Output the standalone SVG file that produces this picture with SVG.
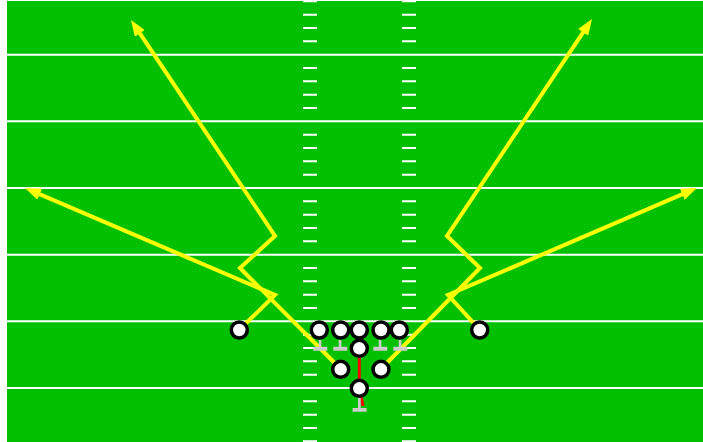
<svg xmlns="http://www.w3.org/2000/svg" width="703" height="442" viewBox="0 0 703 442">
<style>
.yard{stroke:#FFFFFF;stroke-width:2;fill:none}
.hash{stroke:#FFFFFF;stroke-width:2;fill:none}
.route{stroke:#FFFF00;stroke-width:4;fill:none;stroke-linejoin:miter;stroke-linecap:butt}
.snap{stroke:#FF0000;stroke-width:3;fill:none}
.block{fill:#CCCCCC}
.player{fill:#FFFFFF;stroke:#000000;stroke-width:3.5}
</style>
<defs>
<marker id="arrow" markerUnits="userSpaceOnUse" markerWidth="16" markerHeight="12" refX="8" refY="6" orient="auto" viewBox="0 0 16 12">
<path d="M0,0 L16,6 L0,12 Z" fill="#FFFF00"/>
</marker>
</defs>
<rect x="0" y="0" width="703" height="442" fill="#FFFFFF"/>
<g id="field">
<rect x="7" y="1" width="696" height="441" fill="#00C000"/>
<path class="yard" d="M7,54.67H703M7,121.33H703M7,188H703M7,254.67H703M7,321.33H703M7,388H703"/>
<path class="hash" d="M303,1.33h14M303,14.67h14M303,28h14M303,41.33h14M303,68h14M303,81.33h14M303,94.67h14M303,108h14M303,134.67h14M303,148h14M303,161.33h14M303,174.67h14M303,201.33h14M303,214.67h14M303,228h14M303,241.33h14M303,268h14M303,281.33h14M303,294.67h14M303,308h14M303,334.67h14M303,348h14M303,361.33h14M303,374.67h14M303,401.33h14M303,414.67h14M303,428h14M303,441.33h14"/>
<path class="hash" d="M402,1.33h14M402,14.67h14M402,28h14M402,41.33h14M402,68h14M402,81.33h14M402,94.67h14M402,108h14M402,134.67h14M402,148h14M402,161.33h14M402,174.67h14M402,201.33h14M402,214.67h14M402,228h14M402,241.33h14M402,268h14M402,281.33h14M402,294.67h14M402,308h14M402,334.67h14M402,348h14M402,361.33h14M402,374.67h14M402,401.33h14M402,414.67h14M402,428h14M402,441.33h14"/>
</g>
<g id="connectors">
<polyline class="route" points="239,330 275,295 32.4,191.1" marker-end="url(#arrow)"/>
<polyline class="route" points="340.7,369 240,268 275,236 135.4,26.7" marker-end="url(#arrow)"/>
<polyline class="route" points="480,330 448,295 689.6,191.2" marker-end="url(#arrow)"/>
<polyline class="route" points="381,369 480,268 447,236 587.6,25.7" marker-end="url(#arrow)"/>
<polyline class="snap" points="359.3,348 359.3,388 363,406"/>
</g>
<g id="blocks">
<path class="block" d="M318.7,340h2.7v6.7h5.9v4h-14v-4h5.4Z"/>
<path class="block" d="M338.7,340h2.7v6.7h5.9v4h-14v-4h5.4Z"/>
<path class="block" d="M378.7,340h2.7v6.7h5.9v4h-14v-4h5.4Z"/>
<path class="block" d="M398.7,340h2.7v6.7h5.9v4h-14v-4h5.4Z"/>
<path class="block" d="M358,398h2.7v10h5.9v3.7h-14v-3.7h5.4Z"/>
</g>
<g id="wr-left"><circle class="player" cx="239.3" cy="330" r="8"/></g>
<g id="lt"><circle class="player" cx="319.3" cy="330" r="8"/></g>
<g id="lg"><circle class="player" cx="340.7" cy="330" r="8"/></g>
<g id="c"><circle class="player" cx="359.3" cy="330" r="8"/></g>
<g id="rg"><circle class="player" cx="381" cy="330" r="8"/></g>
<g id="rt"><circle class="player" cx="399.3" cy="330" r="8"/></g>
<g id="wr-right"><circle class="player" cx="479.7" cy="330" r="8"/></g>
<g id="qb"><circle class="player" cx="359.3" cy="348.3" r="8"/></g>
<g id="rb-left"><circle class="player" cx="340.7" cy="369.3" r="8"/></g>
<g id="rb-right"><circle class="player" cx="381" cy="369.3" r="8"/></g>
<g id="fb"><circle class="player" cx="359.3" cy="388.3" r="8"/></g>
</svg>
